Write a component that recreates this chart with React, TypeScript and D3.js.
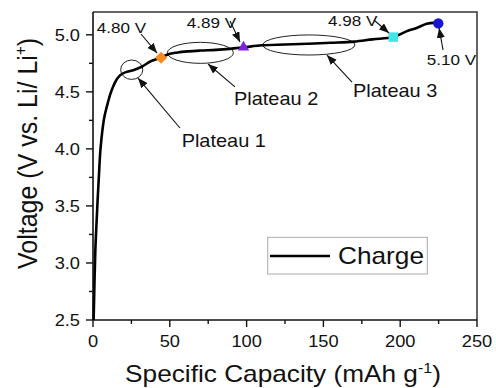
import React from "react";
import * as d3 from "d3";

// Charge curve: specific capacity (mAh/g) vs voltage (V vs. Li/Li+)
const capacity = [
  0.4, 1.0, 1.5, 2.3, 3.0, 3.8, 4.6, 5.6, 7.0, 9.0, 11.0, 13.2, 15.5, 17.6,
  21.9, 26.2, 31.7, 37.1, 44.3, 49, 55, 62, 70, 80, 89, 98, 110, 125, 140,
  155, 170, 182, 195.5, 204, 210.7, 217.3, 221.6, 224.8,
];
const voltage = [
  2.5, 2.85, 3.1, 3.35, 3.55, 3.75, 3.95, 4.1, 4.25, 4.37, 4.47, 4.55, 4.61,
  4.645, 4.675, 4.69, 4.72, 4.765, 4.8, 4.83, 4.845, 4.855, 4.862, 4.868,
  4.877, 4.89, 4.908, 4.915, 4.922, 4.93, 4.94, 4.96, 4.98, 5.03, 5.06, 5.096,
  5.105, 5.1,
];

// Highlighted points along the curve
const markerCapacity = [44.3, 98, 195.5, 224.8];
const markerVoltage = [4.8, 4.89, 4.98, 5.1];
const markerLabels = ["4.80 V", "4.89 V", "4.98 V", "5.10 V"];
const markerColors = ["#f58a1f", "#7b22dc", "#3ee6e6", "#1515d2"];
const markerShapes = ["diamond", "triangle", "square", "circle"];
// label anchor (capacity, voltage) and arrow from/to, in data units
const markerLabelPos = [
  [2.4, 5.016],
  [61.0, 5.06],
  [153, 5.077],
  [217.3, 4.735],
];
const markerArrows = [
  [31.25, 5.007, 41.7, 4.84],
  [89.2, 5.121, 95.7, 4.937],
  [182.9, 5.13, 192.7, 5.016],
  [227.9, 4.867, 225.3, 5.06],
];

// Plateau call-outs: ellipse (cx, cy, rx, ry), label anchor, arrow
const plateauNames = ["Plateau 1", "Plateau 2", "Plateau 3"];
const plateauEllipses = [
  [25.2, 4.694, 7.2, 0.085],
  [69.9, 4.842, 21.5, 0.092],
  [140.5, 4.911, 30, 0.088],
];
const plateauLabelPos = [
  [57.7, 4.017],
  [91.8, 4.385],
  [169.3, 4.457],
];
const plateauArrows = [
  [56.6, 4.183, 29.3, 4.621],
  [92.4, 4.543, 74.9, 4.744],
  [168.6, 4.586, 152.3, 4.823],
];

const xTicks = [0, 50, 100, 150, 200, 250];
const xMinorTicks = [25, 75, 125, 175, 225];
const yTicks = [2.5, 3.0, 3.5, 4.0, 4.5, 5.0];
const yMinorTicks = [2.75, 3.25, 3.75, 4.25, 4.75];

const W = 496;
const H = 388;
const M = { left: 93, right: 477, top: 12, bottom: 320 };
const SX = 1.14; // horizontal widening of the lettering
const FONT = "Arial, 'Liberation Sans', sans-serif";
const INK = "#111";

function Label({ x, y, size, anchor = "start", children }: any) {
  return (
    <text
      transform={`translate(${x},${y}) scale(${SX},1)`}
      fontSize={size}
      fontFamily={FONT}
      fill={INK}
      textAnchor={anchor}
    >
      {children}
    </text>
  );
}

export default function App() {
  const x = d3.scaleLinear().domain([0, 250]).range([M.left, M.right]);
  const y = d3.scaleLinear().domain([2.5, 5.2]).range([M.bottom, M.top]);

  const pts = capacity.map((c, i) => [c, voltage[i]] as [number, number]);
  const line = d3
    .line<[number, number]>()
    .x((d) => x(d[0]))
    .y((d) => y(d[1]))
    .curve(d3.curveMonotoneX);

  const symbolFor: Record<string, any> = {
    diamond: d3.symbol(d3.symbolSquare, 72)(),
    triangle: d3.symbol(d3.symbolTriangle, 55)(),
    square: d3.symbol(d3.symbolSquare, 90)(),
    circle: d3.symbol(d3.symbolCircle, 85)(),
  };

  const arrow = (a: number[], key: string) => (
    <line
      key={key}
      x1={x(a[0])}
      y1={y(a[1])}
      x2={x(a[2])}
      y2={y(a[3])}
      stroke={INK}
      strokeWidth={1.1}
      markerEnd="url(#head)"
    />
  );

  return (
    <svg
      width={W}
      height={H}
      style={{ position: "absolute", left: 0, top: 0, background: "#fff" }}
    >
      <defs>
        <marker
          id="head"
          markerUnits="userSpaceOnUse"
          markerWidth={11}
          markerHeight={8}
          refX={10}
          refY={4}
          orient="auto"
        >
          <path d="M0,0 L10,4 L0,8 Z" fill={INK} />
        </marker>
      </defs>
      <rect width={W} height={H} fill="#fff" />

      {/* frame */}
      <path
        d={`M${M.left},${M.top}H${M.right}V${M.bottom}`}
        fill="none"
        stroke="#333"
        strokeWidth={1.5}
      />

      {/* x axis */}
      <line x1={M.left} x2={M.right} y1={M.bottom} y2={M.bottom} stroke={INK} strokeWidth={1.6} />
      {xTicks.map((t) => (
        <g key={"xt" + t}>
          <line x1={x(t)} x2={x(t)} y1={M.bottom} y2={M.bottom + 7} stroke={INK} strokeWidth={1.4} />
          <Label x={x(t)} y={346.5} size={16} anchor="middle">
            {t}
          </Label>
        </g>
      ))}
      {xMinorTicks.map((t) => (
        <line key={"xm" + t} x1={x(t)} x2={x(t)} y1={M.bottom} y2={M.bottom + 4} stroke={INK} strokeWidth={1.4} />
      ))}

      {/* y axis */}
      <line x1={M.left} x2={M.left} y1={M.top} y2={M.bottom} stroke={INK} strokeWidth={1.6} />
      {yTicks.map((t) => (
        <g key={"yt" + t}>
          <line x1={M.left - 7} x2={M.left} y1={y(t)} y2={y(t)} stroke={INK} strokeWidth={1.4} />
          <Label x={80} y={y(t) + 5.8} size={16} anchor="end">
            {t.toFixed(1)}
          </Label>
        </g>
      ))}
      {yMinorTicks.map((t) => (
        <line key={"ym" + t} x1={M.left - 4} x2={M.left} y1={y(t)} y2={y(t)} stroke={INK} strokeWidth={1.4} />
      ))}

      {/* axis titles */}
      <Label x={(M.left + M.right) / 2 - 2} y={381.5} size={23} anchor="middle">
        Specific Capacity (mAh g
        <tspan fontSize={14} dy={-9}>
          -1
        </tspan>
        <tspan dy={9}>)</tspan>
      </Label>
      <text
        transform={`translate(37,153.5) scale(${SX},1) rotate(-90)`}
        fontSize={25}
        fontFamily={FONT}
        fill={INK}
        textAnchor="middle"
      >
        Voltage (V vs. Li/ Li
        <tspan fontSize={15} dy={-10}>
          +
        </tspan>
        <tspan dy={10}>)</tspan>
      </text>

      {/* plateau call-outs */}
      {plateauEllipses.map((e, i) => (
        <ellipse
          key={"pe" + i}
          cx={x(e[0])}
          cy={y(e[1])}
          rx={x(e[0] + e[2]) - x(e[0])}
          ry={y(e[1] - e[3]) - y(e[1])}
          fill="none"
          stroke="#222"
          strokeWidth={1}
        />
      ))}

      {/* charge curve */}
      <path d={line(pts) || ""} fill="none" stroke="#000" strokeWidth={2.6} strokeLinejoin="round" />

      {plateauArrows.map((a, i) => arrow(a, "pa" + i))}
      {plateauNames.map((n, i) => (
        <Label key={"pn" + i} x={x(plateauLabelPos[i][0])} y={y(plateauLabelPos[i][1])} size={17.5}>
          {n}
        </Label>
      ))}

      {/* highlighted points */}
      {markerCapacity.map((c, i) => (
        <path
          key={"mk" + i}
          d={symbolFor[markerShapes[i]]}
          transform={`translate(${x(c)},${y(markerVoltage[i])})${markerShapes[i] === "diamond" ? " rotate(45)" : ""}`}
          fill={markerColors[i]}
        />
      ))}
      {markerArrows.map((a, i) => arrow(a, "ma" + i))}
      {markerLabels.map((l, i) => (
        <Label key={"ml" + i} x={x(markerLabelPos[i][0])} y={y(markerLabelPos[i][1])} size={15}>
          {l}
        </Label>
      ))}

      {/* legend */}
      <rect x={267.7} y={237.3} width={159.6} height={36.7} fill="#fff" stroke="#aaa" strokeWidth={1} />
      <line x1={270} x2={330} y1={256} y2={256} stroke="#000" strokeWidth={2.6} />
      <Label x={338} y={263.5} size={23}>
        Charge
      </Label>
    </svg>
  );
}
